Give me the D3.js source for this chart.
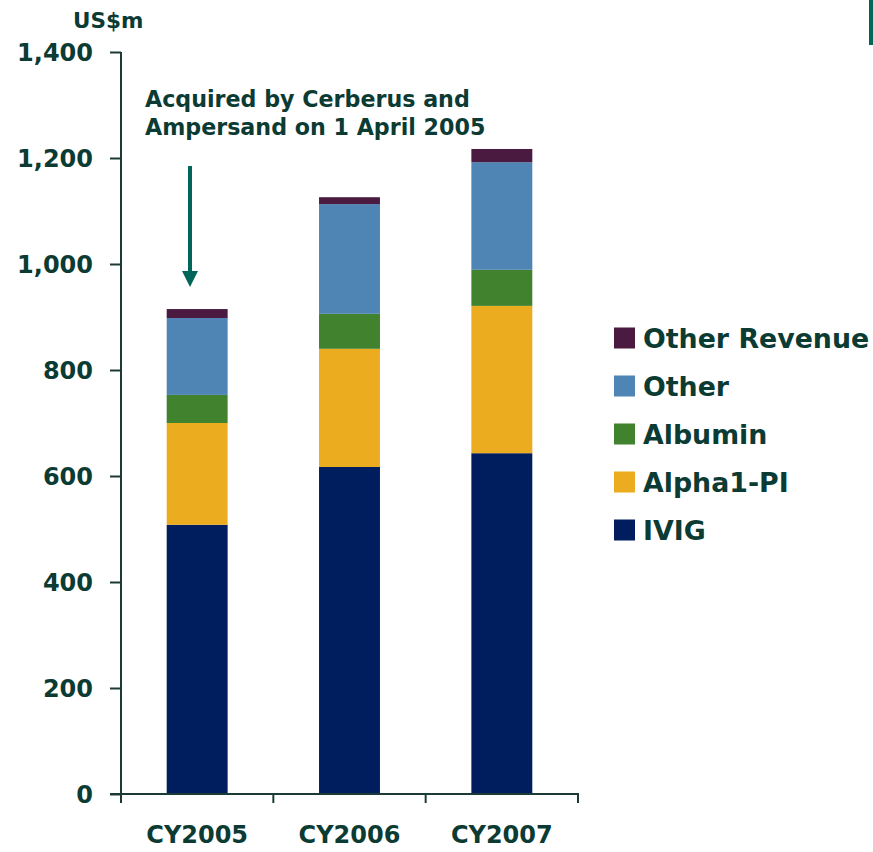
<!DOCTYPE html>
<html>
<head>
<meta charset="utf-8">
<script src="https://cdn.jsdelivr.net/npm/d3@7/dist/d3.min.js"></script>
<style>
  body { margin: 0; background: #fff; }
  svg { display: block; font-family: "DejaVu Sans", sans-serif; font-weight: bold; }
</style>
</head>
<body>
<svg width="873" height="852"></svg>
<script>
// data (US$m)
const years = ['CY2005', 'CY2006', 'CY2007'];
const segments = ['IVIG', 'Alpha1-PI', 'Albumin', 'Other', 'Other Revenue'];
const ivig = [508, 617, 643];
const alpha1 = [192, 223, 278];
const albumin = [53, 66, 68];
const other = [145, 207, 203];
const otherRevenue = [17, 13, 25];
const yTicks = [0, 200, 400, 600, 800, 1000, 1200, 1400];
const colors = ['#001d5e', '#ecac1f', '#41822f', '#4f85b4', '#4a1a40'];

const textCol = '#0b3b33';
const axisCol = '#1d3b36';
const fontFam = '"DejaVu Sans", sans-serif';

let svg = d3.select('svg');

// table for the stack
let table = years.map(function (y, i) {
  return { year: y, 'IVIG': ivig[i], 'Alpha1-PI': alpha1[i], 'Albumin': albumin[i],
           'Other': other[i], 'Other Revenue': otherRevenue[i] };
});
let series = d3.stack().keys(segments)(table);

let xScale = d3.scaleBand().domain(years).range([121, 578]).paddingInner(0.6).paddingOuter(0.3);
let yScale = d3.scaleLinear().domain([0, 1400]).range([794, 52]);

// bars
svg.append('g').selectAll('g')
  .data(series)
  .join('g')
  .attr('fill', function (d, i) { return colors[i]; })
  .selectAll('rect')
  .data(function (d) { return d; })
  .join('rect')
  .attr('x', function (d) { return xScale(d.data.year); })
  .attr('width', xScale.bandwidth())
  .attr('y', function (d) { return yScale(d[1]); })
  .attr('height', function (d) { return yScale(d[0]) - yScale(d[1]); });

// y axis
let yAxis = svg.append('g')
  .attr('transform', 'translate(121,0)')
  .call(d3.axisLeft(yScale).tickValues(yTicks).tickSize(11).tickPadding(17).tickFormat(d3.format(',')));
yAxis.select('.domain').attr('stroke', axisCol).attr('stroke-width', 2).attr('d', 'M0,52V794');
yAxis.selectAll('.tick line').attr('stroke', axisCol).attr('stroke-width', 2);
yAxis.selectAll('.tick text')
  .attr('fill', textCol).attr('font-size', 24).attr('font-weight', 'bold')
  .attr('font-family', fontFam)
  .attr('dy', '0.36em');

// x axis: boundary ticks between the categories
let step = xScale.step();
let xEdges = d3.range(years.length + 1).map(function (i) { return 121 + i * step; });
let xg = svg.append('g');
xg.append('line').attr('x1', 110).attr('x2', 579).attr('y1', 794).attr('y2', 794)
  .attr('stroke', axisCol).attr('stroke-width', 2);
xg.selectAll('line.tk').data(xEdges).join('line').attr('class', 'tk')
  .attr('x1', function (d) { return d; }).attr('x2', function (d) { return d; })
  .attr('y1', 794).attr('y2', 803)
  .attr('stroke', axisCol).attr('stroke-width', 2);
xg.selectAll('text').data(years).join('text')
  .attr('x', function (d) { return xScale(d) + xScale.bandwidth() / 2; })
  .attr('y', 843)
  .attr('text-anchor', 'middle')
  .attr('fill', textCol).attr('font-size', 24)
  .text(function (d) { return d; });

// unit label
svg.append('text').attr('x', 73).attr('y', 28).attr('fill', textCol).attr('font-size', 21.5).text('US$m');

// annotation
let note = svg.append('text').attr('fill', textCol).attr('font-size', 22.2);
note.append('tspan').attr('x', 145).attr('y', 107).text('Acquired by Cerberus and');
note.append('tspan').attr('x', 145).attr('y', 135).text('Ampersand on 1 April 2005');

svg.append('line').attr('x1', 190).attr('x2', 190).attr('y1', 166).attr('y2', 274)
  .attr('stroke', '#006659').attr('stroke-width', 4);
svg.append('path').attr('d', 'M182,271 L198,271 L190,287 Z').attr('fill', '#006659');

// legend, top item is Other Revenue
let legendItems = segments.slice().reverse();
let lg = svg.append('g').selectAll('g').data(legendItems).join('g')
  .attr('transform', function (d, i) { return 'translate(614,' + (338 + i * 48) + ')'; });
lg.append('rect').attr('x', 0).attr('y', -10.5).attr('width', 21).attr('height', 21)
  .attr('fill', function (d) { return colors[segments.indexOf(d)]; });
lg.append('text').attr('x', 29).attr('y', 0).attr('dy', '0.36em')
  .attr('fill', textCol).attr('font-size', 26.8).text(function (d) { return d; });

// teal edge mark top right
svg.append('rect').attr('x', 869).attr('y', 0).attr('width', 4).attr('height', 45).attr('fill', '#006659');
</script>
</body>
</html>
